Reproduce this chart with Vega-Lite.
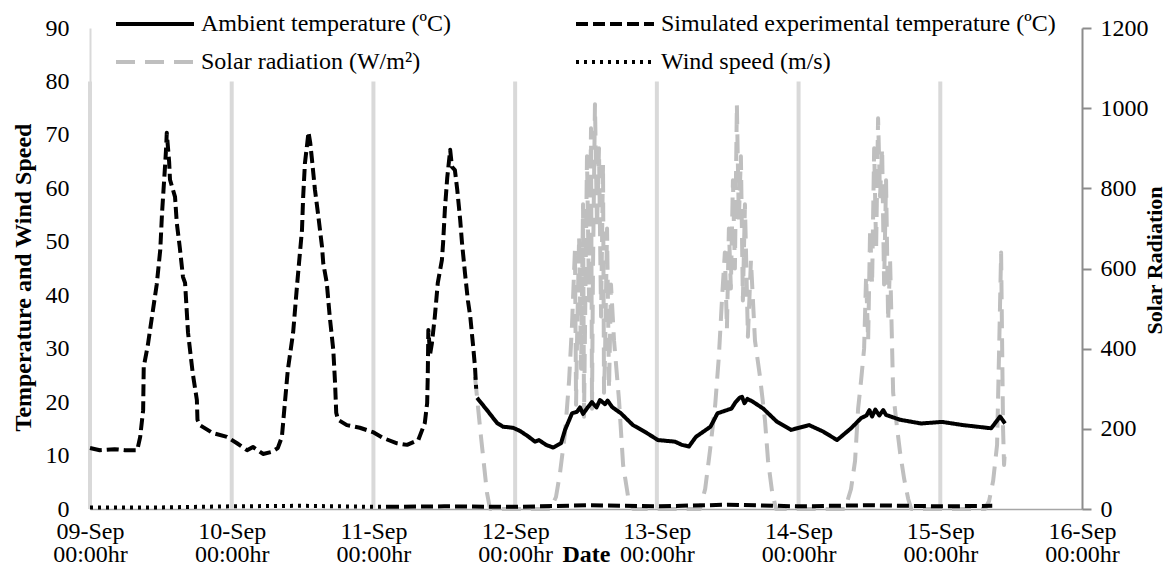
{
"$schema": "https://vega.github.io/schema/vega-lite/v6.json",
"width": 992, "height": 481,
"autosize": {"type": "none"},
"padding": {"left": 90, "top": 28, "right": 90, "bottom": 64},
"background": "white",
"datasets": {
"days": [
{"t":"2014-09-09T00:00","bottom":0,"top":80},{"t":"2014-09-10T00:00","bottom":0,"top":80},{"t":"2014-09-11T00:00","bottom":0,"top":80},{"t":"2014-09-12T00:00","bottom":0,"top":80},{"t":"2014-09-13T00:00","bottom":0,"top":80},{"t":"2014-09-14T00:00","bottom":0,"top":80},{"t":"2014-09-15T00:00","bottom":0,"top":80}
],
"solar": [
{"series":"Solar radiation (W/m²)","t":"2014-09-11T17:12","v":330},{"series":"Solar radiation (W/m²)","t":"2014-09-11T18:13","v":180},{"series":"Solar radiation (W/m²)","t":"2014-09-11T19:14","v":40},{"series":"Solar radiation (W/m²)","t":"2014-09-11T19:45","v":0},
{"series":"Solar radiation (W/m²)","t":"2014-09-12T06:00","v":0},{"series":"Solar radiation (W/m²)","t":"2014-09-12T06:55","v":30},{"series":"Solar radiation (W/m²)","t":"2014-09-12T07:36","v":90},{"series":"Solar radiation (W/m²)","t":"2014-09-12T08:27","v":190},{"series":"Solar radiation (W/m²)","t":"2014-09-12T09:08","v":320},{"series":"Solar radiation (W/m²)","t":"2014-09-12T09:38","v":460},{"series":"Solar radiation (W/m²)","t":"2014-09-12T10:08","v":650},{"series":"Solar radiation (W/m²)","t":"2014-09-12T10:19","v":260},{"series":"Solar radiation (W/m²)","t":"2014-09-12T10:29","v":420},{"series":"Solar radiation (W/m²)","t":"2014-09-12T10:50","v":680},{"series":"Solar radiation (W/m²)","t":"2014-09-12T11:10","v":350},{"series":"Solar radiation (W/m²)","t":"2014-09-12T11:30","v":760},{"series":"Solar radiation (W/m²)","t":"2014-09-12T11:40","v":230},{"series":"Solar radiation (W/m²)","t":"2014-09-12T11:50","v":450},{"series":"Solar radiation (W/m²)","t":"2014-09-12T12:10","v":880},{"series":"Solar radiation (W/m²)","t":"2014-09-12T12:31","v":520},{"series":"Solar radiation (W/m²)","t":"2014-09-12T12:51","v":950},{"series":"Solar radiation (W/m²)","t":"2014-09-12T13:01","v":250},{"series":"Solar radiation (W/m²)","t":"2014-09-12T13:11","v":600},{"series":"Solar radiation (W/m²)","t":"2014-09-12T13:31","v":1010},{"series":"Solar radiation (W/m²)","t":"2014-09-12T13:52","v":700},{"series":"Solar radiation (W/m²)","t":"2014-09-12T14:12","v":900},{"series":"Solar radiation (W/m²)","t":"2014-09-12T14:33","v":480},{"series":"Solar radiation (W/m²)","t":"2014-09-12T14:53","v":860},{"series":"Solar radiation (W/m²)","t":"2014-09-12T15:03","v":290},{"series":"Solar radiation (W/m²)","t":"2014-09-12T15:13","v":380},{"series":"Solar radiation (W/m²)","t":"2014-09-12T15:34","v":700},{"series":"Solar radiation (W/m²)","t":"2014-09-12T15:54","v":300},{"series":"Solar radiation (W/m²)","t":"2014-09-12T16:14","v":560},{"series":"Solar radiation (W/m²)","t":"2014-09-12T16:45","v":420},{"series":"Solar radiation (W/m²)","t":"2014-09-12T17:36","v":270},{"series":"Solar radiation (W/m²)","t":"2014-09-12T18:17","v":110},{"series":"Solar radiation (W/m²)","t":"2014-09-12T19:08","v":30},{"series":"Solar radiation (W/m²)","t":"2014-09-12T19:59","v":0},
{"series":"Solar radiation (W/m²)","t":"2014-09-13T07:18","v":0},{"series":"Solar radiation (W/m²)","t":"2014-09-13T08:11","v":50},{"series":"Solar radiation (W/m²)","t":"2014-09-13T09:02","v":150},{"series":"Solar radiation (W/m²)","t":"2014-09-13T09:53","v":260},{"series":"Solar radiation (W/m²)","t":"2014-09-13T10:30","v":380},{"series":"Solar radiation (W/m²)","t":"2014-09-13T11:01","v":520},{"series":"Solar radiation (W/m²)","t":"2014-09-13T11:31","v":640},{"series":"Solar radiation (W/m²)","t":"2014-09-13T11:52","v":450},{"series":"Solar radiation (W/m²)","t":"2014-09-13T12:12","v":700},{"series":"Solar radiation (W/m²)","t":"2014-09-13T12:32","v":550},{"series":"Solar radiation (W/m²)","t":"2014-09-13T12:53","v":820},{"series":"Solar radiation (W/m²)","t":"2014-09-13T13:13","v":600},{"series":"Solar radiation (W/m²)","t":"2014-09-13T13:33","v":1010},{"series":"Solar radiation (W/m²)","t":"2014-09-13T13:53","v":720},{"series":"Solar radiation (W/m²)","t":"2014-09-13T14:14","v":880},{"series":"Solar radiation (W/m²)","t":"2014-09-13T14:34","v":520},{"series":"Solar radiation (W/m²)","t":"2014-09-13T14:55","v":760},{"series":"Solar radiation (W/m²)","t":"2014-09-13T15:25","v":430},{"series":"Solar radiation (W/m²)","t":"2014-09-13T15:56","v":620},{"series":"Solar radiation (W/m²)","t":"2014-09-13T16:37","v":420},{"series":"Solar radiation (W/m²)","t":"2014-09-13T17:28","v":330},{"series":"Solar radiation (W/m²)","t":"2014-09-13T18:19","v":220},{"series":"Solar radiation (W/m²)","t":"2014-09-13T18:50","v":120},{"series":"Solar radiation (W/m²)","t":"2014-09-13T19:30","v":45},{"series":"Solar radiation (W/m²)","t":"2014-09-13T20:11","v":0},
{"series":"Solar radiation (W/m²)","t":"2014-09-14T07:52","v":0},{"series":"Solar radiation (W/m²)","t":"2014-09-14T08:53","v":50},{"series":"Solar radiation (W/m²)","t":"2014-09-14T09:34","v":120},{"series":"Solar radiation (W/m²)","t":"2014-09-14T10:05","v":250},{"series":"Solar radiation (W/m²)","t":"2014-09-14T10:35","v":320},{"series":"Solar radiation (W/m²)","t":"2014-09-14T11:06","v":400},{"series":"Solar radiation (W/m²)","t":"2014-09-14T11:26","v":580},{"series":"Solar radiation (W/m²)","t":"2014-09-14T11:47","v":420},{"series":"Solar radiation (W/m²)","t":"2014-09-14T12:07","v":700},{"series":"Solar radiation (W/m²)","t":"2014-09-14T12:27","v":560},{"series":"Solar radiation (W/m²)","t":"2014-09-14T12:48","v":900},{"series":"Solar radiation (W/m²)","t":"2014-09-14T13:08","v":650},{"series":"Solar radiation (W/m²)","t":"2014-09-14T13:28","v":975},{"series":"Solar radiation (W/m²)","t":"2014-09-14T13:48","v":780},{"series":"Solar radiation (W/m²)","t":"2014-09-14T14:09","v":900},{"series":"Solar radiation (W/m²)","t":"2014-09-14T14:29","v":560},{"series":"Solar radiation (W/m²)","t":"2014-09-14T14:49","v":820},{"series":"Solar radiation (W/m²)","t":"2014-09-14T15:10","v":470},{"series":"Solar radiation (W/m²)","t":"2014-09-14T15:30","v":620},{"series":"Solar radiation (W/m²)","t":"2014-09-14T16:01","v":290},{"series":"Solar radiation (W/m²)","t":"2014-09-14T16:42","v":200},{"series":"Solar radiation (W/m²)","t":"2014-09-14T17:12","v":140},{"series":"Solar radiation (W/m²)","t":"2014-09-14T17:53","v":75},{"series":"Solar radiation (W/m²)","t":"2014-09-14T18:34","v":25},{"series":"Solar radiation (W/m²)","t":"2014-09-14T19:05","v":0},
{"series":"Solar radiation (W/m²)","t":"2014-09-15T07:35","v":0},{"series":"Solar radiation (W/m²)","t":"2014-09-15T08:16","v":20},{"series":"Solar radiation (W/m²)","t":"2014-09-15T08:57","v":70},{"series":"Solar radiation (W/m²)","t":"2014-09-15T09:37","v":160},{"series":"Solar radiation (W/m²)","t":"2014-09-15T09:58","v":400},{"series":"Solar radiation (W/m²)","t":"2014-09-15T10:18","v":640},{"series":"Solar radiation (W/m²)","t":"2014-09-15T10:28","v":420},{"series":"Solar radiation (W/m²)","t":"2014-09-15T10:38","v":200},{"series":"Solar radiation (W/m²)","t":"2014-09-15T10:48","v":110},{"series":"Solar radiation (W/m²)","t":"2014-09-15T10:58","v":150}
],
"temps": [
{"series":"Ambient temperature (ºC)","t":"2014-09-11T17:33","v":20.8},{"series":"Ambient temperature (ºC)","t":"2014-09-11T19:14","v":18.5},{"series":"Ambient temperature (ºC)","t":"2014-09-11T20:56","v":16.1},{"series":"Ambient temperature (ºC)","t":"2014-09-11T21:57","v":15.4},{"series":"Ambient temperature (ºC)","t":"2014-09-11T23:38","v":15.2},{"series":"Ambient temperature (ºC)","t":"2014-09-12T00:50","v":14.6},{"series":"Ambient temperature (ºC)","t":"2014-09-12T02:11","v":13.6},{"series":"Ambient temperature (ºC)","t":"2014-09-12T03:22","v":12.6},{"series":"Ambient temperature (ºC)","t":"2014-09-12T04:02","v":12.9},{"series":"Ambient temperature (ºC)","t":"2014-09-12T05:14","v":12.0},{"series":"Ambient temperature (ºC)","t":"2014-09-12T06:25","v":11.5},{"series":"Ambient temperature (ºC)","t":"2014-09-12T07:46","v":12.3},{"series":"Ambient temperature (ºC)","t":"2014-09-12T08:27","v":14.8},{"series":"Ambient temperature (ºC)","t":"2014-09-12T09:38","v":17.9},{"series":"Ambient temperature (ºC)","t":"2014-09-12T10:29","v":18.2},{"series":"Ambient temperature (ºC)","t":"2014-09-12T10:59","v":19.0},{"series":"Ambient temperature (ºC)","t":"2014-09-12T11:30","v":17.8},{"series":"Ambient temperature (ºC)","t":"2014-09-12T12:21","v":19.1},{"series":"Ambient temperature (ºC)","t":"2014-09-12T13:00","v":20.0},{"series":"Ambient temperature (ºC)","t":"2014-09-12T13:47","v":19.0},{"series":"Ambient temperature (ºC)","t":"2014-09-12T14:22","v":20.4},{"series":"Ambient temperature (ºC)","t":"2014-09-12T15:13","v":19.6},{"series":"Ambient temperature (ºC)","t":"2014-09-12T15:40","v":20.3},{"series":"Ambient temperature (ºC)","t":"2014-09-12T16:24","v":19.1},{"series":"Ambient temperature (ºC)","t":"2014-09-12T17:55","v":17.9},{"series":"Ambient temperature (ºC)","t":"2014-09-12T19:57","v":15.7},{"series":"Ambient temperature (ºC)","t":"2014-09-12T22:19","v":14.2},{"series":"Ambient temperature (ºC)","t":"2014-09-13T00:11","v":12.9},{"series":"Ambient temperature (ºC)","t":"2014-09-13T03:04","v":12.6},{"series":"Ambient temperature (ºC)","t":"2014-09-13T04:15","v":12.0},{"series":"Ambient temperature (ºC)","t":"2014-09-13T05:26","v":11.7},{"series":"Ambient temperature (ºC)","t":"2014-09-13T06:37","v":13.5},{"series":"Ambient temperature (ºC)","t":"2014-09-13T09:05","v":15.4},{"series":"Ambient temperature (ºC)","t":"2014-09-13T10:16","v":17.9},{"series":"Ambient temperature (ºC)","t":"2014-09-13T12:39","v":18.8},{"series":"Ambient temperature (ºC)","t":"2014-09-13T13:20","v":20.0},{"series":"Ambient temperature (ºC)","t":"2014-09-13T14:00","v":20.8},{"series":"Ambient temperature (ºC)","t":"2014-09-13T14:25","v":21.0},{"series":"Ambient temperature (ºC)","t":"2014-09-13T14:50","v":19.8},{"series":"Ambient temperature (ºC)","t":"2014-09-13T15:20","v":20.6},{"series":"Ambient temperature (ºC)","t":"2014-09-13T16:13","v":20.1},{"series":"Ambient temperature (ºC)","t":"2014-09-13T18:00","v":18.8},{"series":"Ambient temperature (ºC)","t":"2014-09-13T20:22","v":16.3},{"series":"Ambient temperature (ºC)","t":"2014-09-13T22:44","v":14.8},{"series":"Ambient temperature (ºC)","t":"2014-09-14T01:47","v":15.7},{"series":"Ambient temperature (ºC)","t":"2014-09-14T04:09","v":14.5},{"series":"Ambient temperature (ºC)","t":"2014-09-14T06:31","v":12.9},{"series":"Ambient temperature (ºC)","t":"2014-09-14T08:53","v":15.1},{"series":"Ambient temperature (ºC)","t":"2014-09-14T10:35","v":17.0},{"series":"Ambient temperature (ºC)","t":"2014-09-14T11:30","v":17.5},{"series":"Ambient temperature (ºC)","t":"2014-09-14T12:00","v":18.5},{"series":"Ambient temperature (ºC)","t":"2014-09-14T12:27","v":17.3},{"series":"Ambient temperature (ºC)","t":"2014-09-14T13:00","v":18.6},{"series":"Ambient temperature (ºC)","t":"2014-09-14T13:40","v":17.5},{"series":"Ambient temperature (ºC)","t":"2014-09-14T14:20","v":18.5},{"series":"Ambient temperature (ºC)","t":"2014-09-14T14:49","v":17.6},{"series":"Ambient temperature (ºC)","t":"2014-09-14T17:11","v":16.7},{"series":"Ambient temperature (ºC)","t":"2014-09-14T20:45","v":16.0},{"series":"Ambient temperature (ºC)","t":"2014-09-15T00:18","v":16.3},{"series":"Ambient temperature (ºC)","t":"2014-09-15T03:52","v":15.7},{"series":"Ambient temperature (ºC)","t":"2014-09-15T08:37","v":15.1},{"series":"Ambient temperature (ºC)","t":"2014-09-15T10:08","v":17.3},{"series":"Ambient temperature (ºC)","t":"2014-09-15T10:58","v":16.0},
{"series":"Simulated experimental temperature (ºC)","t":"2014-09-09T00:00","v":11.4},{"series":"Simulated experimental temperature (ºC)","t":"2014-09-09T01:40","v":11.0},{"series":"Simulated experimental temperature (ºC)","t":"2014-09-09T04:10","v":11.2},{"series":"Simulated experimental temperature (ºC)","t":"2014-09-09T05:55","v":11.0},{"series":"Simulated experimental temperature (ºC)","t":"2014-09-09T08:00","v":11.0},{"series":"Simulated experimental temperature (ºC)","t":"2014-09-09T08:30","v":13.5},{"series":"Simulated experimental temperature (ºC)","t":"2014-09-09T09:00","v":18.5},{"series":"Simulated experimental temperature (ºC)","t":"2014-09-09T09:06","v":26.6},{"series":"Simulated experimental temperature (ºC)","t":"2014-09-09T09:48","v":30.7},{"series":"Simulated experimental temperature (ºC)","t":"2014-09-09T10:30","v":36},{"series":"Simulated experimental temperature (ºC)","t":"2014-09-09T11:18","v":42},{"series":"Simulated experimental temperature (ºC)","t":"2014-09-09T11:54","v":48.5},{"series":"Simulated experimental temperature (ºC)","t":"2014-09-09T12:12","v":55.4},{"series":"Simulated experimental temperature (ºC)","t":"2014-09-09T12:27","v":59.7},{"series":"Simulated experimental temperature (ºC)","t":"2014-09-09T12:42","v":64},{"series":"Simulated experimental temperature (ºC)","t":"2014-09-09T12:54","v":67.7},{"series":"Simulated experimental temperature (ºC)","t":"2014-09-09T13:00","v":70.4},{"series":"Simulated experimental temperature (ºC)","t":"2014-09-09T13:24","v":65},{"series":"Simulated experimental temperature (ºC)","t":"2014-09-09T13:33","v":61.6},{"series":"Simulated experimental temperature (ºC)","t":"2014-09-09T14:24","v":58.4},{"series":"Simulated experimental temperature (ºC)","t":"2014-09-09T14:42","v":53.5},{"series":"Simulated experimental temperature (ºC)","t":"2014-09-09T15:12","v":49},{"series":"Simulated experimental temperature (ºC)","t":"2014-09-09T15:45","v":43.4},{"series":"Simulated experimental temperature (ºC)","t":"2014-09-09T16:06","v":42.3},{"series":"Simulated experimental temperature (ºC)","t":"2014-09-09T16:36","v":33},{"series":"Simulated experimental temperature (ºC)","t":"2014-09-09T17:24","v":25.4},{"series":"Simulated experimental temperature (ºC)","t":"2014-09-09T18:06","v":20.4},{"series":"Simulated experimental temperature (ºC)","t":"2014-09-09T18:12","v":16.7},{"series":"Simulated experimental temperature (ºC)","t":"2014-09-09T18:36","v":15.7},{"series":"Simulated experimental temperature (ºC)","t":"2014-09-09T20:48","v":14.2},{"series":"Simulated experimental temperature (ºC)","t":"2014-09-09T23:12","v":13.5},{"series":"Simulated experimental temperature (ºC)","t":"2014-09-10T00:54","v":12.3},{"series":"Simulated experimental temperature (ºC)","t":"2014-09-10T02:36","v":11.0},{"series":"Simulated experimental temperature (ºC)","t":"2014-09-10T03:36","v":11.6},{"series":"Simulated experimental temperature (ºC)","t":"2014-09-10T05:18","v":10.3},{"series":"Simulated experimental temperature (ºC)","t":"2014-09-10T06:48","v":10.7},{"series":"Simulated experimental temperature (ºC)","t":"2014-09-10T07:48","v":11.4},{"series":"Simulated experimental temperature (ºC)","t":"2014-09-10T08:30","v":13.5},{"series":"Simulated experimental temperature (ºC)","t":"2014-09-10T09:00","v":19.8},{"series":"Simulated experimental temperature (ºC)","t":"2014-09-10T09:30","v":26},{"series":"Simulated experimental temperature (ºC)","t":"2014-09-10T10:24","v":33},{"series":"Simulated experimental temperature (ºC)","t":"2014-09-10T11:06","v":42.3},{"series":"Simulated experimental temperature (ºC)","t":"2014-09-10T11:36","v":48.5},{"series":"Simulated experimental temperature (ºC)","t":"2014-09-10T11:54","v":52.2},{"series":"Simulated experimental temperature (ºC)","t":"2014-09-10T12:06","v":58.4},{"series":"Simulated experimental temperature (ºC)","t":"2014-09-10T12:24","v":64.7},{"series":"Simulated experimental temperature (ºC)","t":"2014-09-10T12:48","v":68.5},{"series":"Simulated experimental temperature (ºC)","t":"2014-09-10T13:00","v":70.5},{"series":"Simulated experimental temperature (ºC)","t":"2014-09-10T13:18","v":68.5},{"series":"Simulated experimental temperature (ºC)","t":"2014-09-10T13:36","v":65.3},{"series":"Simulated experimental temperature (ºC)","t":"2014-09-10T14:06","v":59.7},{"series":"Simulated experimental temperature (ºC)","t":"2014-09-10T14:36","v":55.4},{"series":"Simulated experimental temperature (ºC)","t":"2014-09-10T15:18","v":49},{"series":"Simulated experimental temperature (ºC)","t":"2014-09-10T15:30","v":46},{"series":"Simulated experimental temperature (ºC)","t":"2014-09-10T16:06","v":42.3},{"series":"Simulated experimental temperature (ºC)","t":"2014-09-10T16:36","v":36},{"series":"Simulated experimental temperature (ºC)","t":"2014-09-10T17:12","v":29.8},{"series":"Simulated experimental temperature (ºC)","t":"2014-09-10T17:30","v":23.6},{"series":"Simulated experimental temperature (ºC)","t":"2014-09-10T17:42","v":18},{"series":"Simulated experimental temperature (ºC)","t":"2014-09-10T18:00","v":16.7},{"series":"Simulated experimental temperature (ºC)","t":"2014-09-10T19:30","v":15.7},{"series":"Simulated experimental temperature (ºC)","t":"2014-09-10T21:42","v":15.2},{"series":"Simulated experimental temperature (ºC)","t":"2014-09-10T23:54","v":14.4},{"series":"Simulated experimental temperature (ºC)","t":"2014-09-11T01:36","v":13.3},{"series":"Simulated experimental temperature (ºC)","t":"2014-09-11T04:00","v":12.3},{"series":"Simulated experimental temperature (ºC)","t":"2014-09-11T05:42","v":12.0},{"series":"Simulated experimental temperature (ºC)","t":"2014-09-11T07:36","v":12.9},{"series":"Simulated experimental temperature (ºC)","t":"2014-09-11T08:42","v":16.1},{"series":"Simulated experimental temperature (ºC)","t":"2014-09-11T09:06","v":19.8},{"series":"Simulated experimental temperature (ºC)","t":"2014-09-11T09:12","v":24.7},{"series":"Simulated experimental temperature (ºC)","t":"2014-09-11T09:18","v":33.5},{"series":"Simulated experimental temperature (ºC)","t":"2014-09-11T09:36","v":29},{"series":"Simulated experimental temperature (ºC)","t":"2014-09-11T09:54","v":31},{"series":"Simulated experimental temperature (ºC)","t":"2014-09-11T10:24","v":36},{"series":"Simulated experimental temperature (ºC)","t":"2014-09-11T10:54","v":42.3},{"series":"Simulated experimental temperature (ºC)","t":"2014-09-11T11:36","v":46.6},{"series":"Simulated experimental temperature (ºC)","t":"2014-09-11T11:48","v":49.8},{"series":"Simulated experimental temperature (ºC)","t":"2014-09-11T12:06","v":56},{"series":"Simulated experimental temperature (ºC)","t":"2014-09-11T12:30","v":62},{"series":"Simulated experimental temperature (ºC)","t":"2014-09-11T13:00","v":67.2},{"series":"Simulated experimental temperature (ºC)","t":"2014-09-11T13:18","v":64},{"series":"Simulated experimental temperature (ºC)","t":"2014-09-11T13:48","v":63.4},{"series":"Simulated experimental temperature (ºC)","t":"2014-09-11T14:12","v":59.7},{"series":"Simulated experimental temperature (ºC)","t":"2014-09-11T14:42","v":54},{"series":"Simulated experimental temperature (ºC)","t":"2014-09-11T15:00","v":49.8},{"series":"Simulated experimental temperature (ºC)","t":"2014-09-11T15:30","v":44.2},{"series":"Simulated experimental temperature (ºC)","t":"2014-09-11T16:00","v":39},{"series":"Simulated experimental temperature (ºC)","t":"2014-09-11T16:24","v":36},{"series":"Simulated experimental temperature (ºC)","t":"2014-09-11T16:54","v":30.3},{"series":"Simulated experimental temperature (ºC)","t":"2014-09-11T17:12","v":26.6},{"series":"Simulated experimental temperature (ºC)","t":"2014-09-11T17:24","v":22.5},
{"series":"Simulated experimental temperature (ºC)","seg":"b","t":"2014-09-11T02:18","v":0.4},{"series":"Simulated experimental temperature (ºC)","seg":"b","t":"2014-09-11T12:00","v":0.5},{"series":"Simulated experimental temperature (ºC)","seg":"b","t":"2014-09-12T00:00","v":0.4},{"series":"Simulated experimental temperature (ºC)","seg":"b","t":"2014-09-12T12:00","v":0.7},{"series":"Simulated experimental temperature (ºC)","seg":"b","t":"2014-09-13T00:00","v":0.5},{"series":"Simulated experimental temperature (ºC)","seg":"b","t":"2014-09-13T12:00","v":0.8},{"series":"Simulated experimental temperature (ºC)","seg":"b","t":"2014-09-14T00:00","v":0.5},{"series":"Simulated experimental temperature (ºC)","seg":"b","t":"2014-09-14T12:00","v":0.7},{"series":"Simulated experimental temperature (ºC)","seg":"b","t":"2014-09-15T00:00","v":0.5},{"series":"Simulated experimental temperature (ºC)","seg":"b","t":"2014-09-15T08:48","v":0.6},
{"series":"Wind speed (m/s)","t":"2014-09-09T00:00","v":0.3},{"series":"Wind speed (m/s)","t":"2014-09-09T12:00","v":0.3},{"series":"Wind speed (m/s)","t":"2014-09-10T00:00","v":0.5},{"series":"Wind speed (m/s)","t":"2014-09-10T12:00","v":0.6},{"series":"Wind speed (m/s)","t":"2014-09-11T00:00","v":0.4},{"series":"Wind speed (m/s)","t":"2014-09-11T02:18","v":0.4}
]
},
"encoding": {
"x": {"field": "t", "type": "temporal",
 "scale": {"domain": [{"year": 2014, "month": 9, "date": 9}, {"year": 2014, "month": 9, "date": 16}]},
 "axis": {"title": "Date", "tickCount": {"interval": "day", "step": 1}, "labelExpr": "[timeFormat(datum.value, '%d-%b'), '00:00hr']", "labelFont": "Liberation Serif", "labelFontSize": 24, "labelLineHeight": 23, "labelPadding": 10, "ticks": false, "tickSize": 0, "domainColor": "#a6a6a6", "domainWidth": 1.5, "labelFlush": false, "labelOverlap": false, "titleFont": "Liberation Serif", "titleFontSize": 24, "titleFontWeight": "bold", "titleY": 45, "titleBaseline": "middle"}}
},
"resolve": {"scale": {"y": "independent"}},
"layer": [
{"data": {"name": "days"},
 "mark": {"type": "rule", "color": "#d9d9d9", "strokeWidth": 4},
 "encoding": {"y": {"field": "bottom", "type": "quantitative", "scale": {"domain": [0, 90]}, "axis": null}, "y2": {"field": "top"}}},
{"data": {"name": "solar"},
 "mark": {"type": "line", "strokeJoin": "round", "strokeWidth": 4},
 "encoding": {
  "y": {"field": "v", "type": "quantitative", "scale": {"domain": [0, 1200]},
   "axis": {"orient": "right", "values": [0, 200, 400, 600, 800, 1000, 1200], "format": "d", "title": "Solar Radiation", "titleFont": "Liberation Serif", "titleFontSize": 22, "titleFontWeight": "bold", "titleAngle": 270, "titleX": 72, "titleY": 232, "titleBaseline": "middle", "titleAlign": "center", "labelFont": "Liberation Serif", "labelFontSize": 24, "labelPadding": 9, "tickSize": 9, "tickWidth": 2, "tickColor": "#8c8c8c", "domainColor": "#8c8c8c", "domainWidth": 2}},
  "color": {"field": "series", "type": "nominal", "scale": {"domain": ["Ambient temperature (ºC)", "Simulated experimental temperature (ºC)", "Solar radiation (W/m²)", "Wind speed (m/s)"], "range": ["black", "black", "#bfbfbf", "black"]}},
  "strokeDash": {"field": "series", "type": "nominal", "scale": {"domain": ["Ambient temperature (ºC)", "Simulated experimental temperature (ºC)", "Solar radiation (W/m²)", "Wind speed (m/s)"], "range": [[1, 0], [12, 5], [19, 10], [3, 5]]}}
 }},
{"data": {"name": "temps"},
 "mark": {"type": "line", "strokeJoin": "round", "strokeWidth": 4},
 "encoding": {
  "y": {"field": "v", "type": "quantitative", "scale": {"domain": [0, 90]},
   "axis": {"orient": "left", "values": [0, 10, 20, 30, 40, 50, 60, 70, 80, 90], "title": "Temperature and Wind Speed", "titleFont": "Liberation Serif", "titleFontSize": 24, "titleFontWeight": "bold", "titleAngle": 270, "titleX": -67, "titleY": 249, "titleBaseline": "middle", "titleAlign": "center", "labelFont": "Liberation Serif", "labelFontSize": 24, "labelPadding": 21, "ticks": false, "tickSize": 0, "domainColor": "#d9d9d9", "domainWidth": 2}},
  "detail": {"field": "seg", "type": "nominal"},
  "color": {"field": "series", "type": "nominal", "scale": {"domain": ["Ambient temperature (ºC)", "Simulated experimental temperature (ºC)", "Solar radiation (W/m²)", "Wind speed (m/s)"], "range": ["black", "black", "#bfbfbf", "black"]}},
  "strokeDash": {"field": "series", "type": "nominal", "scale": {"domain": ["Ambient temperature (ºC)", "Simulated experimental temperature (ºC)", "Solar radiation (W/m²)", "Wind speed (m/s)"], "range": [[1, 0], [12, 5], [19, 10], [3, 5]]}}
 }}
],
"config": {"font": "Liberation Serif", "view": {"stroke": null},
 "axis": {"grid": false, "labelColor": "black", "titleColor": "black", "labelFont": "Liberation Serif", "titleFont": "Liberation Serif"},
 "legend": {"orient": "none", "legendX": 24, "legendY": -16, "direction": "horizontal", "columns": 2, "title": null, "symbolType": "stroke", "symbolSize": 6084, "symbolStrokeWidth": 4, "clipHeight": 24, "labelFontSize": 24, "labelFont": "Liberation Serif", "labelColor": "black", "labelOffset": 5, "columnPadding": 122, "rowPadding": 14, "labelLimit": 0}}
}
